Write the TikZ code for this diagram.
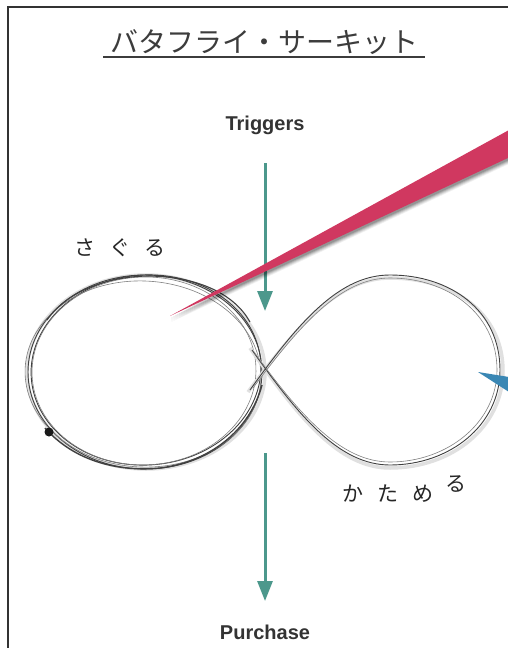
\documentclass[tikz,border=0pt]{standalone}
\usepackage{fontspec}
\setmainfont{Liberation Sans}
\newfontfamily\jpfont{Noto Sans CJK JP}
\usetikzlibrary{arrows.meta}
\definecolor{teal1}{RGB}{76,152,140}
\definecolor{pink1}{RGB}{208,56,96}
\definecolor{blue1}{RGB}{58,135,180}
\definecolor{ink}{RGB}{60,60,60}
\begin{document}
\begin{tikzpicture}[x=1pt,y=-1pt,
  arr/.style={draw=teal1,line width=3pt,-{Triangle[width=15pt,length=20pt]}},
  lbl/.style={font=\bfseries\fontsize{20}{24}\selectfont,text=black!80,inner sep=0pt},
  hand/.style={font=\jpfont\fontsize{21}{24}\selectfont,text=black!85,inner sep=0pt},
  sk/.style={draw=black!75,line width=0.9pt},
  skl/.style={draw=black!50,line width=0.6pt},
  halo/.style={draw=black!12,line width=3.5pt},
  frame/.style={draw=black!80,line width=1.6pt}]
\useasboundingbox (0,0) rectangle (508,648);
\clip (0,0) rectangle (508,648);
\fill[white] (0,0) rectangle (508,648);
% frame
\draw[frame] (8,7) rectangle (530,670);
% title
\node[inner sep=0pt,text=ink,font=\jpfont\fontsize{28}{32}\selectfont] (title) at (264,42) {バタフライ・サーキット};
\coordinate (ul1) at (103,57);
\coordinate (ul2) at (425,57);
\draw[draw=ink,line width=1.4pt] (ul1) -- (ul2);
% labels
\node[lbl] (trig) at (265,125) {Triggers};
\node[lbl] (purch) at (265,632) {Purchase};
% arrows
\coordinate (a1s) at (265,163);
\coordinate (a1e) at (265,311);
\coordinate (a2s) at (265,453);
\coordinate (a2e) at (265,601);
\draw[arr] (a1s) -- (a1e);
\draw[arr] (a2s) -- (a2e);
% left loop (sketchy)
\draw[halo] (146,372) ellipse [x radius=119,y radius=97];
\draw[sk] (145,372) ellipse [x radius=117,y radius=97];
\draw[sk,rotate around={4:(146,370)}] (146,370) ellipse [x radius=115,y radius=95];
\draw[skl,rotate around={-3:(143,374)}] (143,374) ellipse [x radius=118,y radius=93];
\draw[skl,rotate around={2:(144,371)}] (144,371) ellipse [x radius=112,y radius=94];
\draw[sk,line width=1.4pt] (45,428) .. controls (75,462) and (120,472) .. (160,468) .. controls (210,462) and (250,430) .. (262,385);
\draw[sk,line width=1.1pt] (47,320) .. controls (68,290) and (110,276) .. (150,276) .. controls (200,277) and (235,295) .. (250,322);
\fill[black!90] (49,432) circle (4.5pt);
% right loop
\draw[halo] (248,392) .. controls (300,322) and (340,278) .. (390,278) .. controls (452,278) and (503,312) .. (503,371) .. controls (503,427) and (452,468) .. (390,468) .. controls (340,468) and (300,420) .. (250,348);
\draw[sk] (250,390) .. controls (300,320) and (340,275) .. (390,275) .. controls (450,275) and (500,310) .. (500,370) .. controls (500,425) and (450,465) .. (390,465) .. controls (340,465) and (300,418) .. (252,350);
\draw[skl] (253,388) .. controls (302,322) and (342,278) .. (390,278) .. controls (447,278) and (497,313) .. (497,370) .. controls (497,422) and (448,462) .. (390,462) .. controls (342,462) and (302,418) .. (254,352);
% handwritten labels
\node[hand] (saguru) at (120,248) {さ\hspace{14pt}ぐ\hspace{14pt}る};
\node[hand,anchor=base west] (katameru) at (342,501) {か\hspace{14pt}た\hspace{14pt}め\hspace{12pt}\raisebox{10pt}{る}};
% pink wedge with shadow
\coordinate (pt) at (170,316);
\coordinate (pu) at (540,113);
\coordinate (pl) at (540,143);
\foreach \o/\a in {6/0.06,5/0.08,4/0.1,3/0.12,2/0.14}{
  \fill[black,opacity=\a] ([shift={(1,\o)}]pt) -- ([shift={(1,\o)}]pu) -- ([shift={(1,\o)}]pl) -- cycle;
}
\fill[pink1] (pt) -- (pu) -- (pl) -- cycle;
% blue wedge
\coordinate (bt) at (478,372);
\coordinate (bu) at (540,382);
\coordinate (bl) at (540,412);
\fill[blue1] (bt) -- (bu) -- (bl) -- cycle;
\end{tikzpicture}
\end{document}
